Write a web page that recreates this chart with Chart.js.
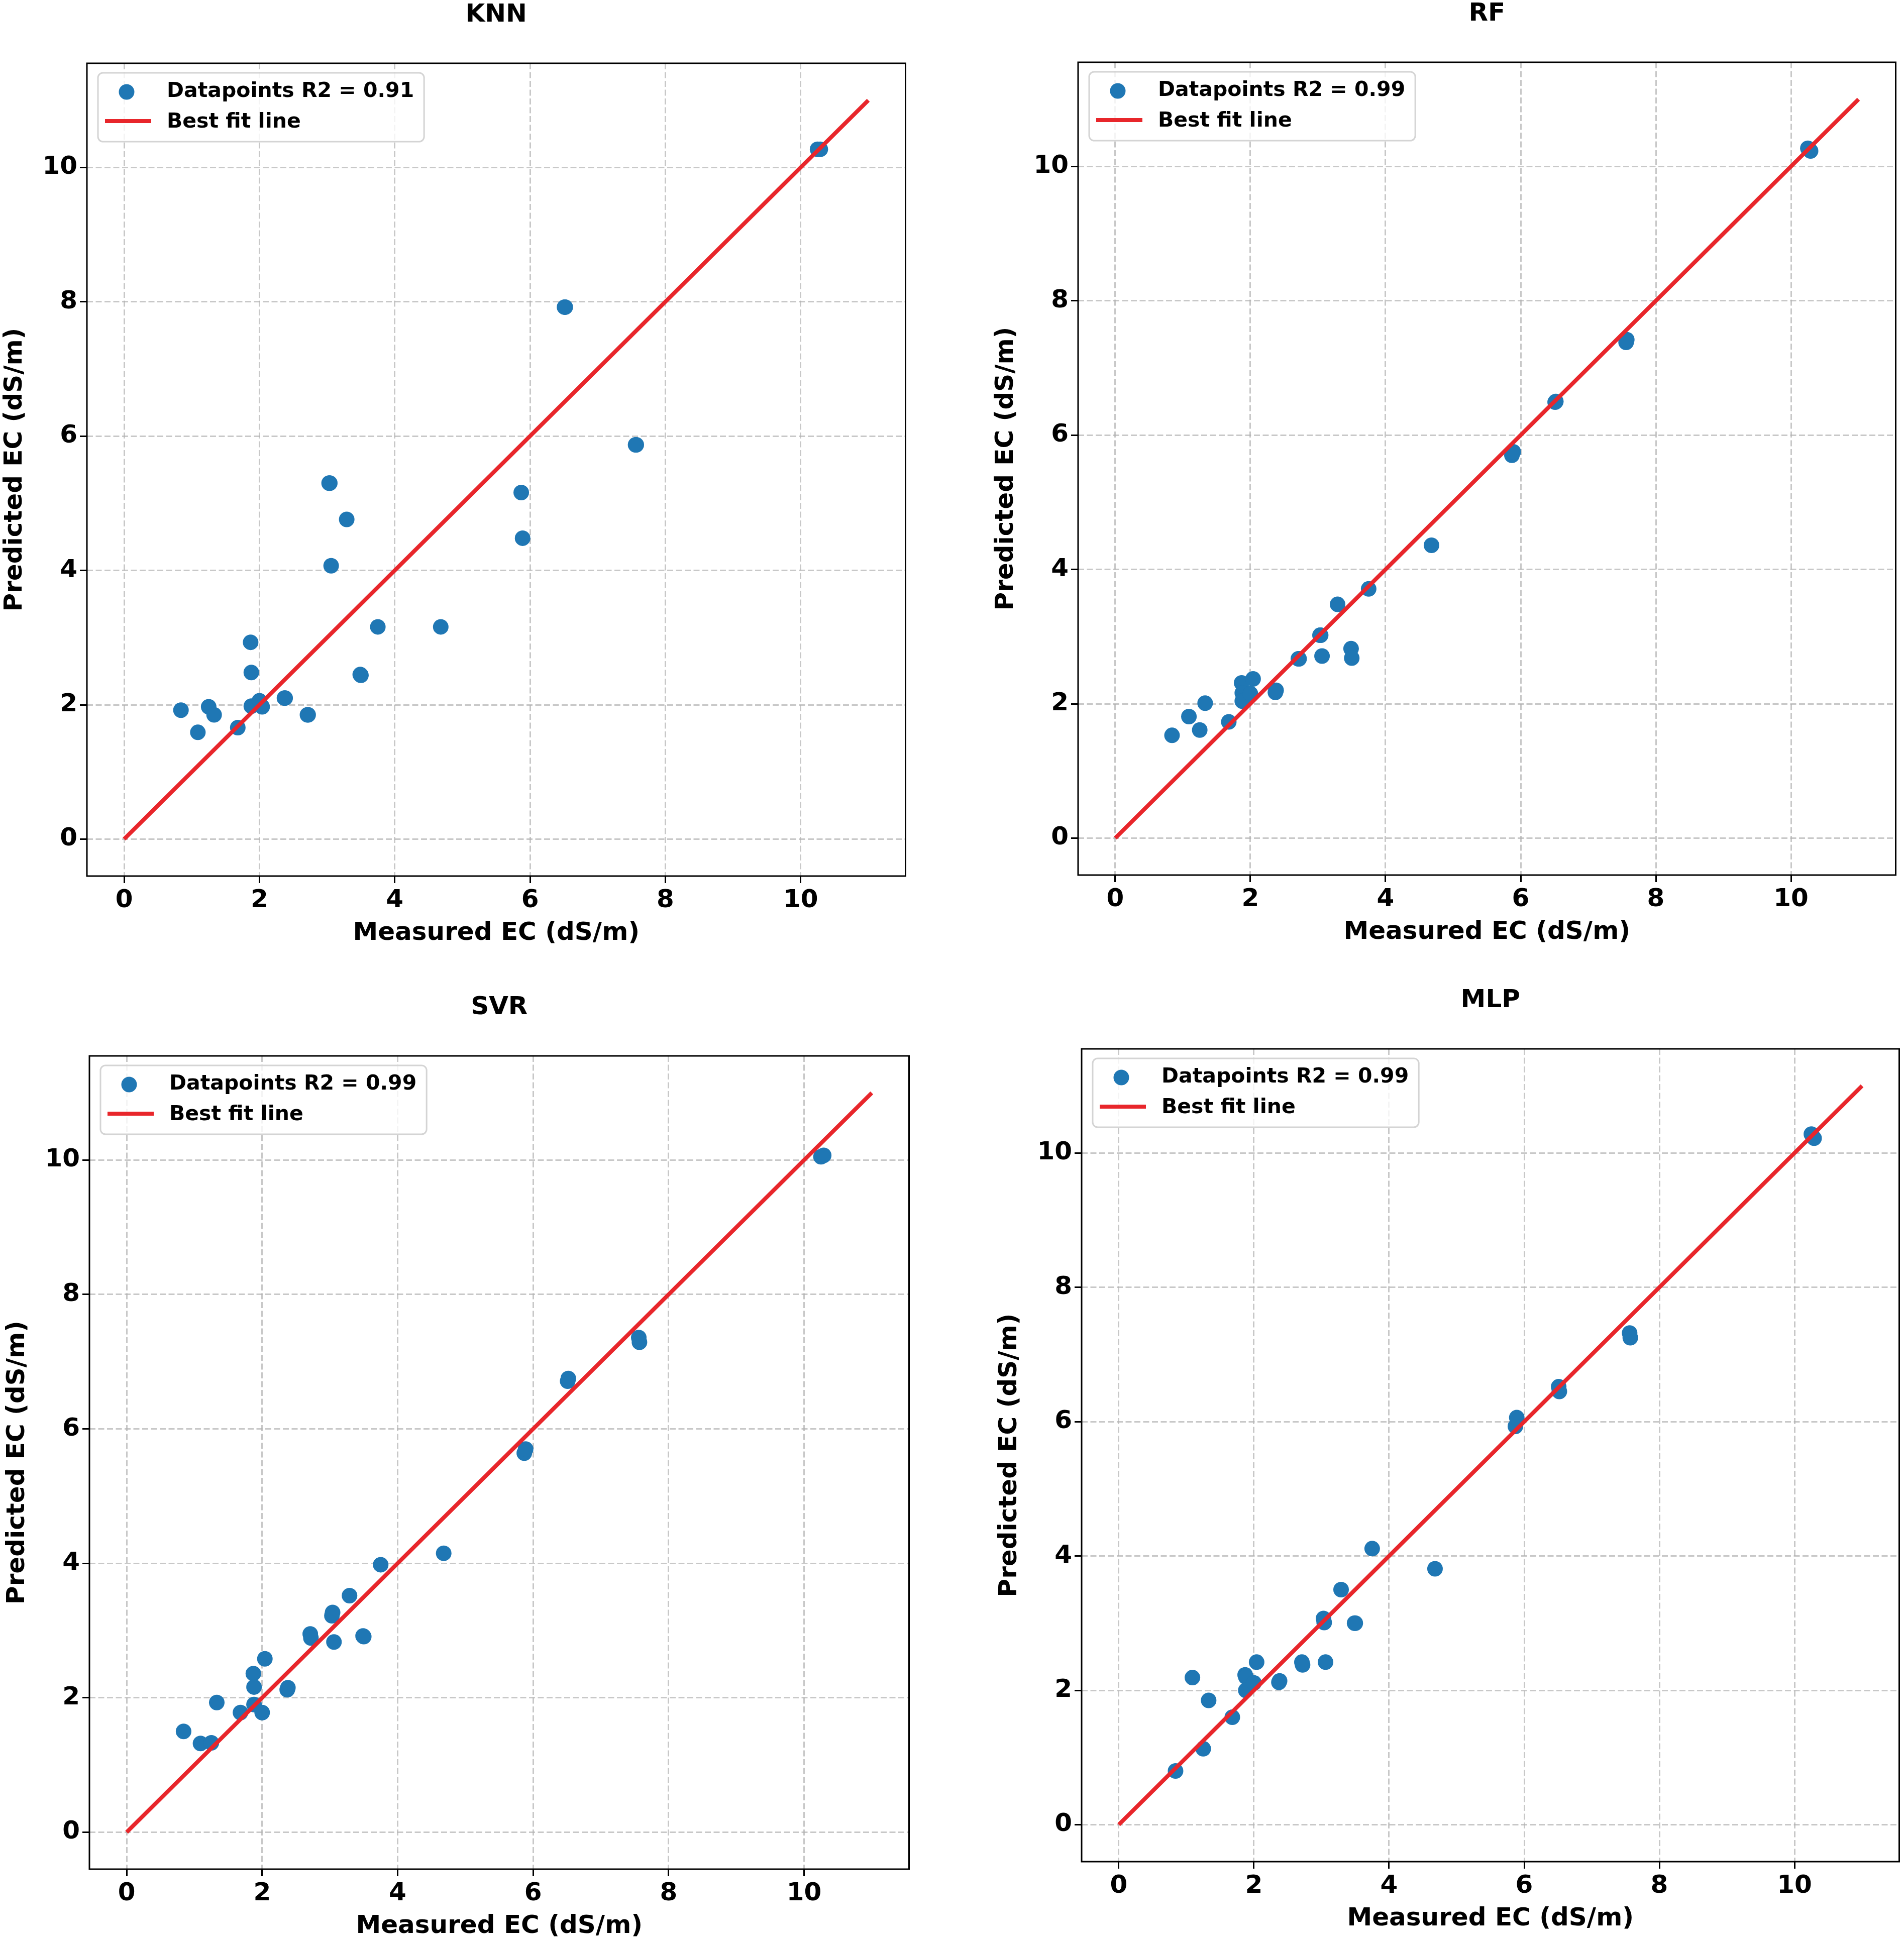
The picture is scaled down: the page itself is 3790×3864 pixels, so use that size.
<!DOCTYPE html>
<html>
<head>
<meta charset="utf-8">
<script src="https://cdn.jsdelivr.net/npm/chart.js@4.4.0/dist/chart.umd.min.js"></script>
<style>
  html, body { margin: 0; padding: 0; background: #fff; overflow: hidden; }
  body { width: 3790px; height: 3864px; position: relative; }
  canvas { position: absolute; }
</style>
</head>
<body>
<canvas id="knn"></canvas>
<canvas id="rf"></canvas>
<canvas id="svr"></canvas>
<canvas id="mlp"></canvas>
<script>
/* Measured vs predicted EC for four models */

// measured EC (dS/m), same samples for every model
const measured = [0.84, 1.09, 1.25, 1.33, 1.68, 1.87, 1.88, 1.88, 2.00, 2.04,
  2.37, 2.38, 2.71, 2.72, 3.03, 3.04, 3.06, 3.29, 3.49, 3.50,
  3.75, 4.68, 5.87, 5.89, 6.51, 6.52, 7.56, 7.57, 10.25, 10.29];

const knnPred = [1.92, 1.59, 1.97, 1.85, 1.66, 2.93, 2.48, 1.98, 2.06, 1.97,
  2.10, 2.10, 1.85, 1.85, 5.30, 5.30, 4.07, 4.76, 2.45, 2.44,
  3.16, 3.16, 5.16, 4.48, 7.92, 7.92, 5.87, 5.87, 10.27, 10.27];

const rfPred = [1.53, 1.81, 1.61, 2.01, 1.73, 2.31, 2.16, 2.04, 2.15, 2.37,
  2.17, 2.20, 2.67, 2.67, 3.02, 3.02, 2.71, 3.48, 2.82, 2.68,
  3.71, 4.36, 5.70, 5.75, 6.49, 6.50, 7.38, 7.42, 10.27, 10.23];

const svrPred = [1.50, 1.32, 1.33, 1.93, 1.78, 2.36, 2.16, 1.90, 1.78, 2.58,
  2.12, 2.15, 2.95, 2.89, 3.22, 3.27, 2.83, 3.52, 2.92, 2.91,
  3.98, 4.15, 5.64, 5.70, 6.71, 6.75, 7.36, 7.29, 10.05, 10.07];

const mlpPred = [0.80, 2.19, 1.13, 1.85, 1.60, 2.23, 2.20, 2.00, 2.11, 2.42,
  2.12, 2.14, 2.42, 2.38, 3.07, 3.01, 2.42, 3.50, 3.00, 3.00,
  4.11, 3.81, 5.93, 6.06, 6.52, 6.45, 7.32, 7.25, 10.28, 10.22];

const modelNames = ['KNN', 'RF', 'SVR', 'MLP'];
const r2Scores = [0.91, 0.99, 0.99, 0.99];
const tickValues = [0, 2, 4, 6, 8, 10];
const fitLine = [0, 11];

const FONT = 'DejaVu Sans';
const BLUE = '#1f77b4';
const RED = '#e8262b';
const Y_AXIS_W = 173, TITLE_H = 126, X_AXIS_H = 156, PAD_R = 6;

/* plot frame + matplotlib style legend inside the axes */
const frameAndKey = {
  id: 'frameAndKey',
  afterDraw(chart) {
    const { ctx, chartArea: a } = chart;
    const ds = chart.data.datasets;
    ctx.save();
    ctx.strokeStyle = '#000';
    ctx.lineWidth = 3;
    ctx.strokeRect(a.left, a.top, a.right - a.left, a.bottom - a.top);

    ctx.font = 'bold 41px "' + FONT + '"';
    const textW = Math.max(...ds.map(d => ctx.measureText(d.label).width));
    const bx = a.left + 22, by = a.top + 19;
    const bw = 137 + textW + 20, bh = 137;
    ctx.beginPath();
    ctx.roundRect(bx, by, bw, bh, 10);
    ctx.fillStyle = 'rgba(255,255,255,0.8)';
    ctx.fill();
    ctx.strokeStyle = '#d4d4d4';
    ctx.lineWidth = 3;
    ctx.stroke();

    ctx.beginPath();
    ctx.arc(bx + 57, by + 38, 15.5, 0, Math.PI * 2);
    ctx.fillStyle = ds[0].backgroundColor;
    ctx.fill();

    ctx.beginPath();
    ctx.moveTo(bx + 14, by + 96);
    ctx.lineTo(bx + 106, by + 96);
    ctx.strokeStyle = ds[1].borderColor;
    ctx.lineWidth = 8;
    ctx.stroke();

    ctx.fillStyle = '#000';
    ctx.textBaseline = 'middle';
    ctx.fillText(ds[0].label, bx + 137, by + 37);
    ctx.fillText(ds[1].label, bx + 137, by + 98);
    ctx.restore();
  }
};

function axis(label, pos) {
  return {
    type: 'linear',
    position: pos,
    min: -0.55,
    max: 11.55,
    afterBuildTicks: s => { s.ticks = tickValues.map(v => ({ value: v })); },
    afterFit: s => {
      if (pos === 'left') s.width = Y_AXIS_W;
      else s.height = X_AXIS_H;
    },
    grid: {
      color: 'rgba(176,176,176,0.7)',
      lineWidth: 3,
      tickLength: 14,
      tickColor: '#000',
      tickWidth: 3
    },
    border: { display: false, dash: [12, 5.5] },
    ticks: {
      color: '#000',
      padding: 5,
      font: { family: FONT, size: 50, weight: 'bold' }
    },
    title: {
      display: true,
      text: label,
      color: '#000',
      padding: { top: 0, bottom: 12 },
      font: { family: FONT, size: 50, weight: 'bold' }
    }
  };
}

function buildChart(canvas, idx, preds, w, h) {
  canvas.width = w;
  canvas.height = h;
  canvas.style.width = w + 'px';
  canvas.style.height = h + 'px';

  const points = measured.map((m, i) => ({ x: m, y: preds[i] }));
  const line = fitLine.map(v => ({ x: v, y: v }));

  return new Chart(canvas, {
    type: 'scatter',
    data: {
      datasets: [
        {
          label: 'Datapoints R2 = ' + r2Scores[idx].toFixed(2),
          data: points,
          backgroundColor: BLUE,
          borderWidth: 0,
          pointRadius: 15.5,
          pointHoverRadius: 15.5,
          order: 1
        },
        {
          type: 'line',
          label: 'Best fit line',
          data: line,
          borderColor: RED,
          borderWidth: 8,
          pointRadius: 0,
          fill: false,
          order: 0
        }
      ]
    },
    options: {
      responsive: false,
      animation: false,
      devicePixelRatio: 1,
      layout: { padding: { top: 0, right: PAD_R, bottom: 0, left: 0 } },
      plugins: {
        legend: { display: false },
        tooltip: { enabled: false },
        title: {
          display: true,
          text: modelNames[idx],
          fullSize: false,
          color: '#000',
          padding: { top: 0, bottom: TITLE_H - 60 },
          font: { family: FONT, size: 50, weight: 'bold', lineHeight: 1.2 }
        }
      },
      scales: {
        x: axis('Measured EC (dS/m)', 'bottom'),
        y: axis('Predicted EC (dS/m)', 'left')
      }
    },
    plugins: [frameAndKey]
  });
}

function makePanel(id, idx, preds, area) {
  const canvas = document.getElementById(id);
  canvas.style.left = (area.left - Y_AXIS_W) + 'px';
  canvas.style.top = (area.top - TITLE_H) + 'px';
  const w = Y_AXIS_W + area.w + PAD_R;
  const h = TITLE_H + area.h + X_AXIS_H;
  let chart = buildChart(canvas, idx, preds, w, h);
  // layout keeps a few px on the right; widen the canvas so the plot box lands where wanted
  const dx = Math.round(Y_AXIS_W + area.w - chart.chartArea.right);
  if (dx !== 0) {
    chart.destroy();
    chart = buildChart(canvas, idx, preds, w + dx, h);
  }
  return chart;
}

makePanel('knn', 0, knnPred, { left: 173, top: 126, w: 1629, h: 1618 });
makePanel('rf', 1, rfPred, { left: 2146, top: 124, w: 1627, h: 1618 });
makePanel('svr', 2, svrPred, { left: 178, top: 2102, w: 1631, h: 1619 });
makePanel('mlp', 3, mlpPred, { left: 2153, top: 2088, w: 1627, h: 1618 });
</script>
</body>
</html>
